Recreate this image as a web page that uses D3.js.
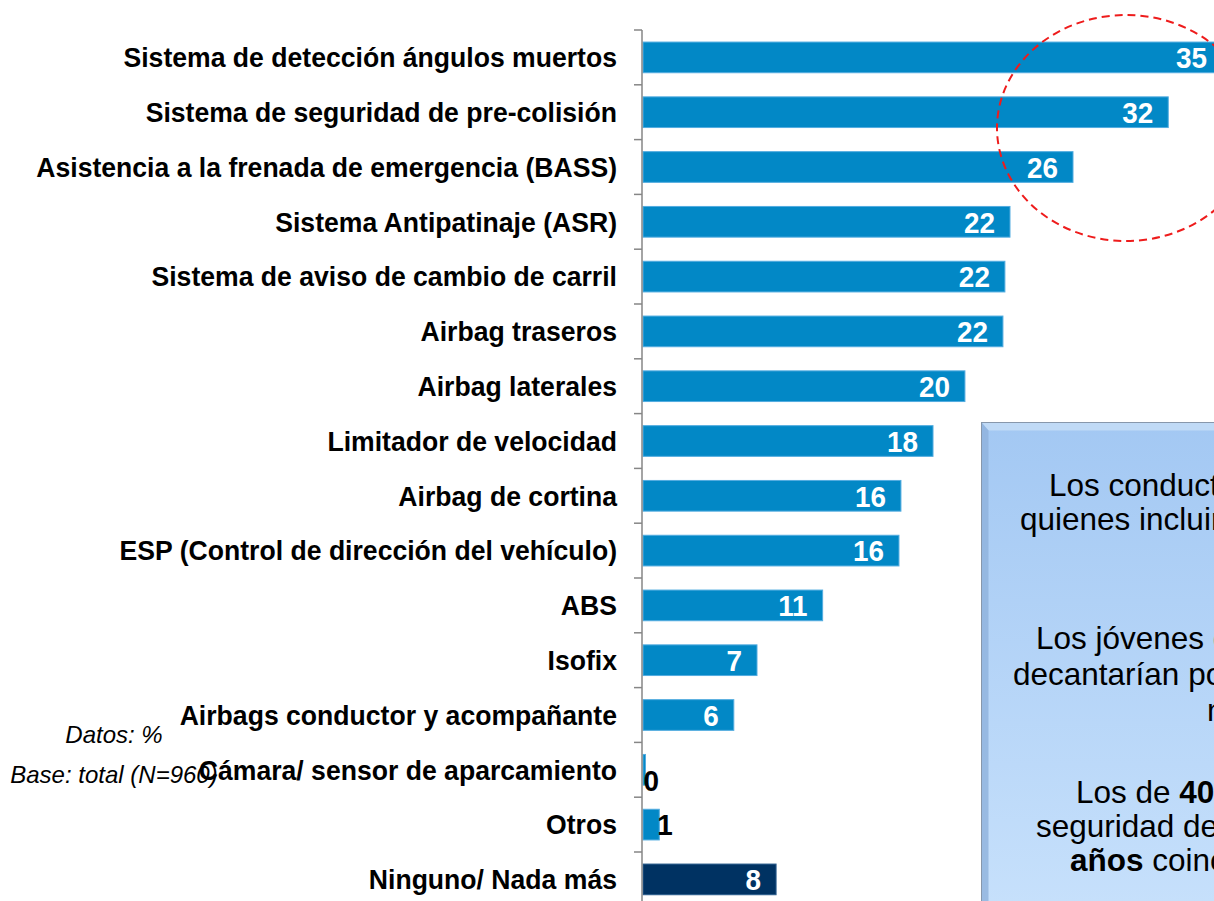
<!DOCTYPE html>
<html lang="es">
<head>
    <meta charset="UTF-8">
    <script src="https://d3js.org/d3.v7.min.js"></script>
    <title>Sistemas de seguridad</title>
    <style>
        body { margin: 0; background: #fff; }
        svg { display: block; font-family: Arial, "Liberation Sans", sans-serif; }
    </style>
</head>
<body>
    <div id="chart"></div>

    <script>
        // datos (%)
        const categories = [
            "Sistema de detección ángulos muertos",
            "Sistema de seguridad de pre-colisión",
            "Asistencia a la frenada de emergencia (BASS)",
            "Sistema Antipatinaje (ASR)",
            "Sistema de aviso de cambio de carril",
            "Airbag traseros",
            "Airbag laterales",
            "Limitador de velocidad",
            "Airbag de cortina",
            "ESP (Control de dirección del vehículo)",
            "ABS",
            "Isofix",
            "Airbags conductor y acompañante",
            "Cámara/ sensor de aparcamiento",
            "Otros",
            "Ninguno/ Nada más"
        ];
        const values = [35.2, 31.93, 26.14, 22.31, 22.0, 21.88, 19.57, 17.63, 15.68, 15.56, 10.92, 6.93, 5.52, 0.15, 0.99, 8.09];
        const darkCategories = ["Ninguno/ Nada más"];

        const notes = ["Datos: %", "Base: total (N=960)"];

        // texto del recuadro (recortado por el borde derecho)
        const boxLines = [
            [["Los conductores", false]],
            [["quienes incluirían", false]],
            [["Los jóvenes de", false]],
            [["decantarían por", false]],
            [["más", false]],
            [["Los de ", false], ["40", true]],
            [["seguridad de", false]],
            [["años", true], [" coinciden", false]]
        ];

        const width = 1214, height = 901;
        const svg = d3.select("#chart").append("svg")
            .attr("width", width)
            .attr("height", height);

        const axisX = 642;

        const x = d3.scaleLinear()
            .domain([0, 40])
            .range([axisX + 1, axisX + 1 + 40 * 16.45]);

        const y = d3.scaleBand()
            .domain(categories)
            .range([30, 30 + categories.length * 54.8])
            .paddingInner(0.44)
            .paddingOuter(0.22);

        const data = categories.map((c, i) => ({ cat: c, v: values[i] }));

        // recuadro de texto (debajo de todo)
        const defs = svg.append("defs");
        const grad = defs.append("linearGradient")
            .attr("id", "boxGrad")
            .attr("x1", 0).attr("y1", 0).attr("x2", 0).attr("y2", 1);
        grad.append("stop").attr("offset", "0%").attr("stop-color", "#a3c8f3");
        grad.append("stop").attr("offset", "100%").attr("stop-color", "#c9e2fc");

        const bx = 981.5, by = 422.5, bw = 420, bh = 520;
        const box = svg.append("g");
        box.append("rect")
            .attr("x", bx).attr("y", by)
            .attr("width", bw).attr("height", bh)
            .attr("fill", "url(#boxGrad)")
            .attr("stroke", "#8797ab")
            .attr("stroke-width", 1);
        // bisel superior e izquierdo
        box.append("path")
            .attr("d", `M${bx + 0.5},${by + 0.5} L${bx + bw},${by + 0.5} L${bx + bw},${by + 8} L${bx + 7},${by + 8} Z`)
            .attr("fill", "#c3dbf6")
            .attr("opacity", 0.9);
        box.append("path")
            .attr("d", `M${bx + 0.5},${by + 0.5} L${bx + 7},${by + 8} L${bx + 7},${by + bh} L${bx + 0.5},${by + bh} Z`)
            .attr("fill", "#8fb1dc")
            .attr("opacity", 0.8);

        const boxLineX = [1049, 1020, 1036, 1013, 1207, 1076, 1036, 1070];
        const boxLineY = [496, 530, 649, 685, 721, 803, 837, 871];

        boxLines.forEach((segs, i) => {
            const t = box.append("text")
                .attr("x", boxLineX[i])
                .attr("y", boxLineY[i])
                .attr("font-size", "31.5px")
                .attr("fill", "#000");
            segs.forEach(s => {
                t.append("tspan")
                    .attr("font-weight", s[1] ? "bold" : "normal")
                    .text(s[0]);
            });
        });

        // barras
        svg.selectAll("rect.bar")
            .data(data)
            .enter()
            .append("rect")
            .attr("class", "bar")
            .attr("x", x(0))
            .attr("y", d => y(d.cat))
            .attr("width", d => x(d.v) - x(0))
            .attr("height", y.bandwidth())
            .attr("fill", d => darkCategories.includes(d.cat) ? "#003262" : "#0288c6")
            .attr("stroke", d => darkCategories.includes(d.cat) ? "#2a5c8c" : "#52ace0")
            .attr("stroke-width", 1);

        // etiquetas de valor (letra algo estrecha como en el original)
        svg.selectAll("text.val")
            .data(data)
            .enter()
            .append("text")
            .attr("class", "val")
            .attr("transform", d => {
                const lx = d.v >= 3 ? x(d.v) - 15 : x(d.v) - 2;
                const ly = y(d.cat) + y.bandwidth() / 2 + (d.v < 0.5 ? 10 : 0);
                return `translate(${lx},${ly}) scale(0.93,1)`;
            })
            .attr("dy", "0.36em")
            .attr("text-anchor", d => d.v >= 3 ? "end" : "start")
            .attr("font-size", "30px")
            .attr("font-weight", "bold")
            .attr("fill", d => d.v >= 3 ? "#fff" : "#000")
            .text(d => Math.round(d.v));

        // etiquetas de categoria
        svg.selectAll("text.cat")
            .data(categories)
            .enter()
            .append("text")
            .attr("class", "cat")
            .attr("transform", d => `translate(${axisX - 25},${y(d) + y.bandwidth() / 2}) scale(0.95,1)`)
            .attr("dy", "0.35em")
            .attr("text-anchor", "end")
            .attr("font-size", "28px")
            .attr("font-weight", "bold")
            .attr("fill", "#000")
            .text(d => d);

        // eje vertical
        svg.append("line")
            .attr("x1", axisX).attr("x2", axisX)
            .attr("y1", y.range()[0]).attr("y2", height)
            .attr("stroke", "#868686")
            .attr("stroke-width", 1.5);

        const bounds = d3.range(categories.length + 1).map(i => y.range()[0] + i * y.step());
        svg.selectAll("line.tick")
            .data(bounds)
            .enter()
            .append("line")
            .attr("class", "tick")
            .attr("x1", axisX - 8).attr("x2", axisX)
            .attr("y1", d => d).attr("y2", d => d)
            .attr("stroke", "#868686")
            .attr("stroke-width", 1.5);

        // notas
        svg.selectAll("text.note")
            .data(notes)
            .enter()
            .append("text")
            .attr("class", "note")
            .attr("x", 114)
            .attr("y", (d, i) => 743 + i * 40)
            .attr("text-anchor", "middle")
            .attr("font-size", "24px")
            .attr("font-style", "italic")
            .attr("fill", "#000")
            .text(d => d);

        // elipse roja discontinua sobre las primeras barras
        svg.append("ellipse")
            .attr("cx", 1126)
            .attr("cy", 128)
            .attr("rx", 129)
            .attr("ry", 113)
            .attr("fill", "none")
            .attr("stroke", "#ee1c1c")
            .attr("stroke-width", 2)
            .attr("stroke-dasharray", "8,5");
    </script>
</body>
</html>
